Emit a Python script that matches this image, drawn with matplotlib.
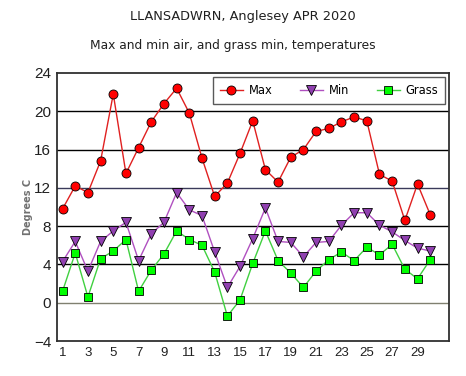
import matplotlib
matplotlib.use("Agg")
import matplotlib.pyplot as plt

days = list(range(1, 31))
t_max = [9.8, 12.2, 11.5, 14.8, 21.8, 13.5, 16.2, 18.9, 20.8, 22.4,
         19.8, 15.1, 11.1, 12.5, 15.6, 19.0, 13.9, 12.6, 15.2, 16.0,
         17.9, 18.2, 18.9, 19.4, 19.0, 13.4, 12.7, 8.6, 12.4, 9.2]
t_min = [4.3, 6.4, 3.3, 6.4, 7.5, 8.4, 4.4, 7.2, 8.4, 11.5,
         9.7, 9.1, 5.3, 1.6, 3.8, 6.7, 9.9, 6.4, 6.3, 4.8,
         6.3, 6.4, 8.1, 9.4, 9.4, 8.1, 7.4, 6.5, 5.7, 5.4]
t_grass = [1.2, 5.2, 0.6, 4.6, 5.4, 6.6, 1.2, 3.4, 5.1, 7.5,
           6.6, 6.0, 3.2, -1.4, 0.3, 4.1, 7.5, 4.4, 3.1, 1.6,
           3.3, 4.5, 5.3, 4.4, 5.8, 5.0, 6.1, 3.5, 2.5, 4.5]
x_ticks = list(range(1, 30, 2))
y_ticks = list(range(-4, 25, 4))

fig = plt.figure(figsize=(4.66, 3.76), dpi=100)
ax = fig.add_axes([0.122, 0.093, 0.842, 0.713])

grid_colors = {20: "black", 16: "black", 12: "#3a3a5a", 8: "black",
               4: "black", 0: "#808070"}
for yv, col in grid_colors.items():
    ax.axhline(yv, color=col, linewidth=1.0, zorder=1)

ax.plot(days, t_max, color="#e02020", linewidth=1.0, marker="o",
        markersize=6.5, markerfacecolor="#ff0000", markeredgecolor="black",
        markeredgewidth=0.6, label="Max", zorder=4)
ax.plot(days, t_min, color="#b050c0", linewidth=1.0, marker="v",
        markersize=7, markerfacecolor="#9040b0", markeredgecolor="black",
        markeredgewidth=0.6, label="Min", zorder=3)
ax.plot(days, t_grass, color="#40d040", linewidth=1.0, marker="s",
        markersize=6.2, markerfacecolor="#00ff00", markeredgecolor="black",
        markeredgewidth=0.6, label="Grass", zorder=3)

ax.set_xlim(0.55, 31.5)
ax.set_ylim(-4, 24)
ax.set_xticks(x_ticks)
ax.set_yticks(y_ticks)
ax.tick_params(axis="x", length=0, pad=4, labelsize=9.5)
ax.tick_params(axis="y", length=0, pad=4, labelsize=11)
for lab in ax.get_xticklabels() + ax.get_yticklabels():
    lab.set_fontfamily("Liberation Sans")
    lab.set_color("#202020")
for sp in ax.spines.values():
    sp.set_color("#303030")
    sp.set_linewidth(1.3)

ax.set_ylabel("Degrees C", fontsize=7, fontweight="bold", color="#707070",
              labelpad=1)

leg = ax.legend(loc="upper right", ncol=3, fontsize=8.3, frameon=True,
                fancybox=False, edgecolor="#303030", borderaxespad=0.35,
                borderpad=0.6, handlelength=2.0, columnspacing=2.4,
                handletextpad=0.5)
leg.get_frame().set_linewidth(1.0)

fig.text(0.522, 0.955, "LLANSADWRN, Anglesey APR 2020", ha="center",
         va="center", fontsize=9.3, color="#202020")
fig.text(0.5, 0.878, "Max and min air, and grass min, temperatures",
         ha="center", va="center", fontsize=8.8, color="#202020")

fig.savefig("out.png", dpi=100)
